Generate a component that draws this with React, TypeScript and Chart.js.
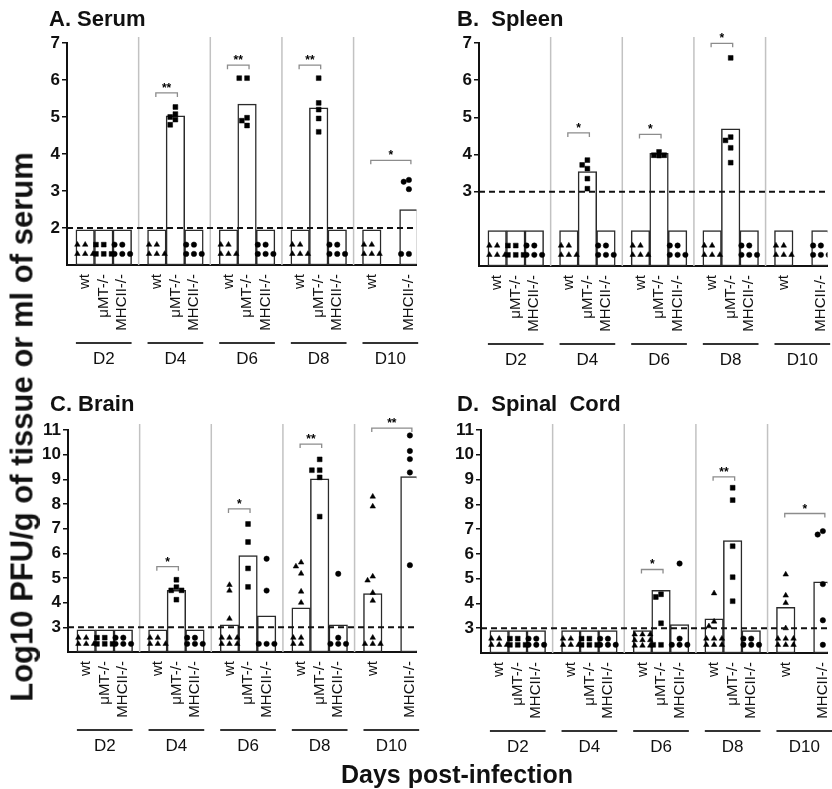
import React, { useEffect, useRef } from 'react';
import { Chart, registerables } from 'chart.js';

Chart.register(...registerables);

const FONT = '"Liberation Sans", Arial, Helvetica, sans-serif';

// ---------- categories ----------
const days = ['D2', 'D4', 'D6', 'D8', 'D10'];
const genotypes = ['wt', 'μMT-/-', 'MHCII-/-'];

// ---------- A. Serum ----------
const serumBarWt = [1.95, 1.95, 1.95, 1.95, 1.95];
const serumBarMuMT = [1.95, 5.03, 5.35, 5.25, null];
const serumBarMHCII = [1.95, 1.95, 1.95, 1.95, 2.5];
const serumPtsWt = [
  [1.55, 1.55, 1.3, 1.3, 1.3], [1.55, 1.55, 1.3, 1.3, 1.3], [1.55, 1.55, 1.3, 1.3, 1.3],
  [1.55, 1.55, 1.3, 1.3, 1.3], [1.55, 1.55, 1.3, 1.3, 1.3],
];
const serumPtsMuMT = [
  [1.55, 1.55, 1.3, 1.3, 1.3], [5.27, 5.08, 5.0, 4.93, 4.79], [6.05, 6.05, 4.98, 4.9, 4.77],
  [6.05, 5.38, 5.2, 4.96, 4.6], [],
];
const serumPtsMHCII = [
  [1.55, 1.55, 1.3, 1.3, 1.3], [1.55, 1.55, 1.3, 1.3, 1.3], [1.55, 1.55, 1.3, 1.3, 1.3],
  [1.55, 1.55, 1.3, 1.3, 1.3], [3.3, 3.25, 3.05, 1.3, 1.3],
];
const serumSigGroup = [1, 2, 3, 4];
const serumSigTo = [1, 1, 1, 2];
const serumSigY = [5.65, 6.4, 6.4, 3.83];
const serumSigLabel = ['**', '**', '**', '*'];

// ---------- B. Spleen ----------
const spleenBarWt = [1.95, 1.95, 1.95, 1.95, 1.95];
const spleenBarMuMT = [1.95, 3.54, 4.03, 4.69, null];
const spleenBarMHCII = [1.95, 1.95, 1.95, 1.95, 1.95];
const spleenPtsWt = [
  [1.55, 1.55, 1.3, 1.3, 1.3], [1.55, 1.55, 1.3, 1.3, 1.3], [1.55, 1.55, 1.3, 1.3, 1.3],
  [1.55, 1.55, 1.3, 1.3, 1.3], [1.55, 1.55, 1.3, 1.3, 1.3],
];
const spleenPtsMuMT = [
  [1.55, 1.55, 1.3, 1.3, 1.3], [3.85, 3.72, 3.62, 3.35, 3.08], [4.07, 3.98, 3.98, 3.97],
  [6.6, 4.47, 4.38, 4.18, 3.78], [],
];
const spleenPtsMHCII = [
  [1.55, 1.55, 1.3, 1.3, 1.3], [1.55, 1.55, 1.3, 1.3, 1.3], [1.55, 1.55, 1.3, 1.3, 1.3],
  [1.55, 1.55, 1.3, 1.3, 1.3], [1.55, 1.55, 1.3, 1.3, 1.3],
];
const spleenSigGroup = [1, 2, 3];
const spleenSigTo = [1, 1, 1];
const spleenSigY = [4.58, 4.54, 6.99];
const spleenSigLabel = ['*', '*', '*'];

// ---------- C. Brain ----------
const brainBarWt = [2.9, 2.9, 3.1, 3.79, 4.37];
const brainBarMuMT = [2.9, 4.5, 5.91, 9.02, null];
const brainBarMHCII = [2.9, 2.9, 3.47, 3.1, 9.11];
const brainPtsWt = [
  [2.58, 2.58, 2.33, 2.33, 2.33], [2.58, 2.58, 2.33, 2.33, 2.33],
  [4.72, 4.49, 3.35, 2.58, 2.58, 2.58, 2.33, 2.33, 2.33],
  [5.63, 5.47, 5.18, 4.45, 4.0, 2.58, 2.58, 2.33, 2.33],
  [8.3, 7.9, 5.06, 4.9, 4.4, 4.08, 2.58, 2.33, 2.33, 2.33],
];
const brainPtsMuMT = [
  [2.58, 2.58, 2.33, 2.33, 2.33], [4.93, 4.63, 4.5, 4.5, 4.12], [7.19, 6.46, 5.39, 4.64],
  [9.81, 9.37, 9.37, 9.08, 7.49], [],
];
const brainPtsMHCII = [
  [2.58, 2.58, 2.33, 2.33, 2.33], [2.58, 2.58, 2.33, 2.33, 2.33], [5.78, 4.49, 2.33, 2.33, 2.33],
  [5.17, 2.58, 2.33, 2.33, 2.33], [10.78, 10.15, 9.82, 9.28, 5.52],
];
const brainSigGroup = [1, 2, 3, 4];
const brainSigTo = [1, 1, 1, 2];
const brainSigY = [5.46, 7.8, 10.43, 11.08];
const brainSigLabel = ['*', '*', '**', '**'];

// ---------- D. Spinal Cord ----------
const spinalBarWt = [2.9, 2.9, 2.9, 3.38, 3.84];
const spinalBarMuMT = [2.9, 2.9, 4.53, 6.54, null];
const spinalBarMHCII = [2.9, 2.9, 3.15, 2.9, 4.87];
const spinalPtsWt = [
  [2.58, 2.58, 2.33, 2.33, 2.33], [2.58, 2.58, 2.33, 2.33, 2.33],
  [2.75, 2.75, 2.75, 2.52, 2.52, 2.52, 2.3, 2.3, 2.3],
  [4.41, 3.27, 3.08, 2.58, 2.58, 2.58, 2.33, 2.33, 2.33],
  [5.17, 4.32, 4.02, 3.0, 2.58, 2.58, 2.58, 2.33, 2.33, 2.33],
];
const spinalPtsMuMT = [
  [2.58, 2.58, 2.33, 2.33, 2.33], [2.58, 2.58, 2.33, 2.33, 2.33], [4.37, 4.26, 3.2, 2.33, 2.33],
  [8.67, 8.17, 6.31, 5.06, 4.09], [],
];
const spinalPtsMHCII = [
  [2.58, 2.58, 2.33, 2.33, 2.33], [2.58, 2.58, 2.33, 2.33, 2.33], [5.61, 2.58, 2.33, 2.33, 2.33],
  [2.58, 2.58, 2.33, 2.33, 2.33], [6.92, 6.78, 4.78, 3.32, 2.33],
];
const spinalSigGroup = [2, 3, 4];
const spinalSigTo = [1, 1, 2];
const spinalSigY = [5.37, 9.11, 7.63];
const spinalSigLabel = ['*', '**', '*'];

// ---------- layout ----------
const UNIT_PX = 18.8;
const PERIOD = 3.86;
const OFFSET = 0.48;
const slotX = (g: number, s: number) => g * PERIOD + OFFSET + s + 0.5;
const JITTER = [0, -0.28, 0.28, -0.42, 0.42, -0.14, 0.14];

function swarm(values: number[], cx: number, pxPerY: number) {
  const placed: { x: number; y: number }[] = [];
  for (const v of values) {
    let chosen = 0;
    for (const o of JITTER) {
      const x = cx + o;
      const hit = placed.some((p) => ((p.x - x) * UNIT_PX) ** 2 + ((p.y - v) * pxPerY) ** 2 < 28);
      if (!hit) { chosen = o; break; }
    }
    placed.push({ x: cx + chosen, y: v });
  }
  return placed;
}

type Spec = {
  title: string; left: number; top: number; width: number; height: number;
  axisLeft: number; chartTop: number; chartBottom: number;
  yMin: number; yMax: number; yTicks: number[]; limit: number; pxPerY: number;
  bars: (number | null)[][]; pts: number[][][];
  sigGroup: number[]; sigTo: number[]; sigY: number[]; sigLabel: string[];
};

const panels: Spec[] = [
  {
    title: 'A. Serum', left: 0, top: 0, width: 421, height: 378, axisLeft: 67, chartTop: 43, chartBottom: 265,
    yMin: 1, yMax: 7, yTicks: [2, 3, 4, 5, 6, 7], limit: 2, pxPerY: 37.1,
    bars: [serumBarWt, serumBarMuMT, serumBarMHCII], pts: [serumPtsWt, serumPtsMuMT, serumPtsMHCII],
    sigGroup: serumSigGroup, sigTo: serumSigTo, sigY: serumSigY, sigLabel: serumSigLabel,
  },
  {
    title: 'B.  Spleen', left: 421, top: 0, width: 411, height: 378, axisLeft: 58, chartTop: 43, chartBottom: 266,
    yMin: 1, yMax: 7, yTicks: [3, 4, 5, 6, 7], limit: 3, pxPerY: 37.2,
    bars: [spleenBarWt, spleenBarMuMT, spleenBarMHCII], pts: [spleenPtsWt, spleenPtsMuMT, spleenPtsMHCII],
    sigGroup: spleenSigGroup, sigTo: spleenSigTo, sigY: spleenSigY, sigLabel: spleenSigLabel,
  },
  {
    title: 'C. Brain', left: 0, top: 380, width: 421, height: 409, axisLeft: 68, chartTop: 50, chartBottom: 272,
    yMin: 2, yMax: 11, yTicks: [3, 4, 5, 6, 7, 8, 9, 10, 11], limit: 3, pxPerY: 24.75,
    bars: [brainBarWt, brainBarMuMT, brainBarMHCII], pts: [brainPtsWt, brainPtsMuMT, brainPtsMHCII],
    sigGroup: brainSigGroup, sigTo: brainSigTo, sigY: brainSigY, sigLabel: brainSigLabel,
  },
  {
    title: 'D.  Spinal  Cord', left: 421, top: 380, width: 411, height: 409, axisLeft: 60, chartTop: 50, chartBottom: 273,
    yMin: 2, yMax: 11, yTicks: [3, 4, 5, 6, 7, 8, 9, 10, 11], limit: 3, pxPerY: 24.75,
    bars: [spinalBarWt, spinalBarMuMT, spinalBarMHCII], pts: [spinalPtsWt, spinalPtsMuMT, spinalPtsMHCII],
    sigGroup: spinalSigGroup, sigTo: spinalSigTo, sigY: spinalSigY, sigLabel: spinalSigLabel,
  },
];

function Panel({ spec }: { spec: Spec }) {
  const ref = useRef<HTMLCanvasElement | null>(null);
  useEffect(() => {
    const s = spec;
    const barData: { x: number; y: number }[] = [];
    const tickXs: number[] = [];
    const tickLabels: string[] = [];
    const ptData: { x: number; y: number }[][] = [[], [], []];
    days.forEach((_, g) => {
      genotypes.forEach((label, k) => {
        const v = s.bars[k][g];
        if (v == null) return;
        const cx = slotX(g, k);
        barData.push({ x: cx, y: v });
        tickXs.push(cx);
        tickLabels.push(label);
        ptData[k].push(...swarm(s.pts[k][g], cx, s.pxPerY));
      });
    });
    const xMax = (s.width - s.axisLeft) / UNIT_PX;

    const decor = {
      id: 'decor',
      beforeDatasetsDraw(chart: any) {
        const { ctx, chartArea: a, scales } = chart;
        ctx.save();
        ctx.strokeStyle = '#c2c2c2';
        ctx.lineWidth = 1.5;
        for (let g = 1; g < days.length; g++) {
          const px = scales.x.getPixelForValue(g * PERIOD);
          ctx.beginPath();
          ctx.moveTo(px, a.top - 6);
          ctx.lineTo(px, a.bottom);
          ctx.stroke();
        }
        ctx.restore();
      },
      afterDatasetsDraw(chart: any) {
        const { ctx, chartArea: a, scales } = chart;
        ctx.save();
        const ly = scales.y.getPixelForValue(s.limit);
        ctx.strokeStyle = '#111';
        ctx.lineWidth = 2;
        ctx.setLineDash([6, 4]);
        ctx.beginPath();
        ctx.moveTo(a.left, ly);
        ctx.lineTo(a.right, ly);
        ctx.stroke();
        ctx.setLineDash([]);
        s.sigGroup.forEach((g, i) => {
          const x1 = scales.x.getPixelForValue(slotX(g, 0)) - 1;
          const x2 = scales.x.getPixelForValue(slotX(g, s.sigTo[i])) + 2;
          const y = scales.y.getPixelForValue(s.sigY[i]);
          ctx.strokeStyle = '#8c8c8c';
          ctx.lineWidth = 1.3;
          ctx.beginPath();
          ctx.moveTo(x1, y + 4);
          ctx.lineTo(x1, y);
          ctx.lineTo(x2, y);
          ctx.lineTo(x2, y + 4);
          ctx.stroke();
          ctx.fillStyle = '#000';
          ctx.font = `bold 12px ${FONT}`;
          ctx.textAlign = 'center';
          ctx.textBaseline = 'alphabetic';
          ctx.fillText(s.sigLabel[i], (x1 + x2) / 2, y - 1);
        });
        ctx.restore();
      },
      afterDraw(chart: any) {
        const { ctx, chartArea: a, scales } = chart;
        ctx.save();
        days.forEach((d, g) => {
          const x1 = scales.x.getPixelForValue(g * PERIOD + OFFSET);
          const x2 = scales.x.getPixelForValue(g * PERIOD + OFFSET + 3);
          const y = a.bottom + 78;
          ctx.strokeStyle = '#333';
          ctx.lineWidth = 2;
          ctx.beginPath();
          ctx.moveTo(x1, y);
          ctx.lineTo(x2, y);
          ctx.stroke();
          ctx.fillStyle = '#111';
          ctx.font = `17px ${FONT}`;
          ctx.textAlign = 'center';
          ctx.textBaseline = 'middle';
          ctx.fillText(d, (x1 + x2) / 2, y + 16);
        });
        ctx.restore();
      },
    };

    const pointDs = (k: number, style: string, r: number) => ({
      type: 'scatter' as const,
      data: ptData[k],
      pointStyle: style,
      pointRadius: r,
      pointBackgroundColor: '#000',
      pointBorderColor: '#000',
      pointBorderWidth: 0.5,
      order: 1,
    });

    const chart = new Chart(ref.current as HTMLCanvasElement, {
      type: 'bar',
      data: {
        datasets: [
          {
            type: 'bar',
            data: barData as any,
            backgroundColor: '#ffffff',
            borderColor: '#2a2a2a',
            borderWidth: 1.5,
            borderSkipped: false,
            barPercentage: 1,
            categoryPercentage: 1,
            base: s.yMin,
            order: 2,
          } as any,
          pointDs(0, 'triangle', 3.2) as any,
          pointDs(1, 'rect', 3.4) as any,
          pointDs(2, 'circle', 2.7) as any,
        ],
      },
      options: {
        responsive: false,
        animation: false,
        devicePixelRatio: 1,
        events: [],
        layout: { padding: { top: s.chartTop, left: 0, right: 0, bottom: 0 } },
        plugins: { legend: { display: false }, tooltip: { enabled: false }, title: { display: false } },
        scales: {
          x: {
            type: 'linear',
            min: 0,
            max: xMax,
            offset: false,
            bounds: 'data',
            grid: { display: true, drawOnChartArea: false, drawTicks: false, offset: false },
            border: { display: true, color: '#111', width: 2 },
            ticks: {
              autoSkip: false,
              maxRotation: 90,
              minRotation: 90,
              padding: 9,
              color: '#111',
              font: { family: FONT, size: 15 },
              callback: (_v: any, i: number) => tickLabels[i],
            },
            afterBuildTicks: (sc: any) => { sc.ticks = tickXs.map((v) => ({ value: v })); },
            afterFit: (sc: any) => {
              sc.height = s.height - s.chartBottom;
              sc.paddingLeft = 0;
              sc.paddingRight = 0;
            },
          } as any,
          y: {
            type: 'linear',
            min: s.yMin,
            max: s.yMax,
            beginAtZero: false,
            grid: { display: true, drawOnChartArea: false, drawTicks: true, tickLength: 5, color: '#111', lineWidth: 1.5 },
            border: { display: true, color: '#111', width: 2 },
            ticks: { color: '#111', padding: 2, font: { family: FONT, size: 17, weight: 'bold' } },
            afterBuildTicks: (sc: any) => { sc.ticks = s.yTicks.map((v) => ({ value: v })); },
            afterFit: (sc: any) => {
              sc.width = s.axisLeft;
              sc.paddingTop = 0;
              sc.paddingBottom = 0;
            },
          } as any,
        },
      },
      plugins: [decor as any],
    });
    return () => chart.destroy();
  }, [spec]);

  return (
    <canvas
      ref={ref}
      width={spec.width}
      height={spec.height}
      style={{ position: 'absolute', left: spec.left, top: spec.top, width: spec.width, height: spec.height }}
    />
  );
}

export default function App() {
  const titleStyle = (left: number, top: number): React.CSSProperties => ({
    position: 'absolute', left, top, font: `bold 22px ${FONT}`, lineHeight: '22px',
    color: '#111', whiteSpace: 'pre',
  });
  return (
    <div style={{ position: 'absolute', left: 0, top: 0, width: 832, height: 789, background: '#fff', overflow: 'hidden' }}>
      {panels.map((p) => <Panel key={p.title} spec={p} />)}
      <div style={titleStyle(49, 8)}>{panels[0].title}</div>
      <div style={titleStyle(457, 8)}>{panels[1].title}</div>
      <div style={titleStyle(50, 393)}>{panels[2].title}</div>
      <div style={titleStyle(457, 393)}>{panels[3].title}</div>
      <div
        style={{
          position: 'absolute', left: 22, top: 427, transform: 'translate(-50%, -50%) rotate(-90deg)',
          font: `bold 31px ${FONT}`, lineHeight: '31px', color: '#111', whiteSpace: 'nowrap',
        }}
      >
        Log10 PFU/g of tissue or ml of serum
      </div>
      <div
        style={{
          position: 'absolute', left: 457, top: 762, transform: 'translateX(-50%)',
          font: `bold 25px ${FONT}`, lineHeight: '25px', color: '#111', whiteSpace: 'nowrap',
        }}
      >
        Days post-infection
      </div>
    </div>
  );
}
